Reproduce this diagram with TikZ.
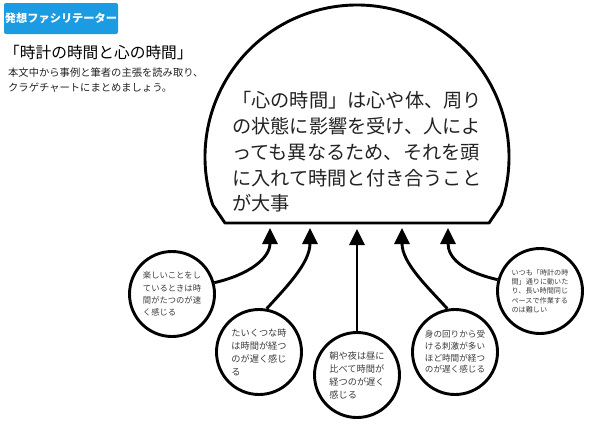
\documentclass[tikz,border=0pt]{standalone}
\usepackage{fontspec}
\setmainfont{Noto Sans CJK JP}
\usepackage{tikz}
\usetikzlibrary{arrows.meta,positioning}
\definecolor{facilblue}{RGB}{27,155,226}
\definecolor{inkgray}{RGB}{34,34,34}
\definecolor{smallgray}{RGB}{60,60,60}

\begin{document}
\begin{tikzpicture}[x=1pt,y=-1pt]
  \tikzstyle{bubble}=[circle, draw, line width=2.9pt, minimum size=85pt, inner sep=0pt, align=left, text=smallgray]
  \tikzstyle{feeds}=[-{Triangle[length=16pt,width=15pt]}, line width=2.9pt]
  \useasboundingbox (0,0) rectangle (593,423);
  % heading
  \node[fill=facilblue, rounded corners=2pt, minimum width=114pt, minimum height=31pt, inner sep=0pt,
        text=white, font=\fontsize{11.2}{13}\selectfont\bfseries] (Facilitator) at (61,18.5) {発想ファシリテーター};
  \node[anchor=west, inner sep=0pt, font=\fontsize{15.7}{18}\selectfont] (Title) at (4,53) {「時計の時間と心の時間」};
  \node[anchor=west, inner sep=0pt, align=left, text=inkgray, font=\fontsize{10.3}{15}\selectfont] (Task) at (8,80.5)
       {本文中から事例と筆者の主張を読み取り、\\
        クラゲチャートにまとめましょう。};
  % jellyfish head
  \draw[line width=2.9pt, line join=round] (225,223) -- (212.8,205) arc[start angle=161.6, end angle=378.4, radius=152] -- (489,223) -- cycle;
  \node[align=left, text=inkgray, font=\fontsize{19.2}{25.8}\selectfont] (Head Text) at (357,152)
       {「心の時間」は心や体、周り\\
        の状態に影響を受け、人によ\\
        っても異なるため、それを頭\\
        に入れて時間と付き合うこと\\
        が大事};
  \coordinate (Tip Fun) at (270,228);
  \coordinate (Tip Bored) at (310,228);
  \coordinate (Tip Morning) at (357,229);
  \coordinate (Tip Stimuli) at (402,228);
  \coordinate (Tip Pace) at (448,228);
  % tentacles
  \node[bubble, font=\fontsize{8.3}{12.3}\selectfont] (Fun) at (172,294)
       {楽しいことをし\\ているときは時\\間がたつのが速\\く感じる};
  \node[bubble, font=\fontsize{9.2}{13}\selectfont] (Bored) at (259,352)
       {たいくつな時\\は時間が経つ\\のが遅く感じ\\る};
  \node[bubble, font=\fontsize{9.2}{13}\selectfont] (Morning) at (357,375)
       {朝や夜は昼に\\比べて時間が\\経つのが遅く\\感じる};
  \node[bubble, font=\fontsize{8.6}{11.7}\selectfont] (Stimuli) at (455,352)
       {身の回りから受\\ける刺激が多い\\ほど時間が経つ\\のが遅く感じる};
  \node[bubble, font=\fontsize{7.1}{9.3}\selectfont] (Pace) at (540,291)
       {いつも「時計の時\\間」通りに動いた\\り、長い時間同じ\\ペースで作業する\\のは難しい};
  \draw[feeds] (Fun.15) .. controls +(35,-8) and +(0,30) .. (Tip Fun);
  \draw[feeds] (Bored.80) .. controls +(20,-22) and +(0,35) .. (Tip Bored);
  \draw[feeds] (Morning.north) -- (Tip Morning);
  \draw[feeds] (Stimuli.100) .. controls +(-20,-22) and +(0,35) .. (Tip Stimuli);
  \draw[feeds] (Pace.165) .. controls +(-35,-8) and +(0,30) .. (Tip Pace);
\end{tikzpicture}
\end{document}
